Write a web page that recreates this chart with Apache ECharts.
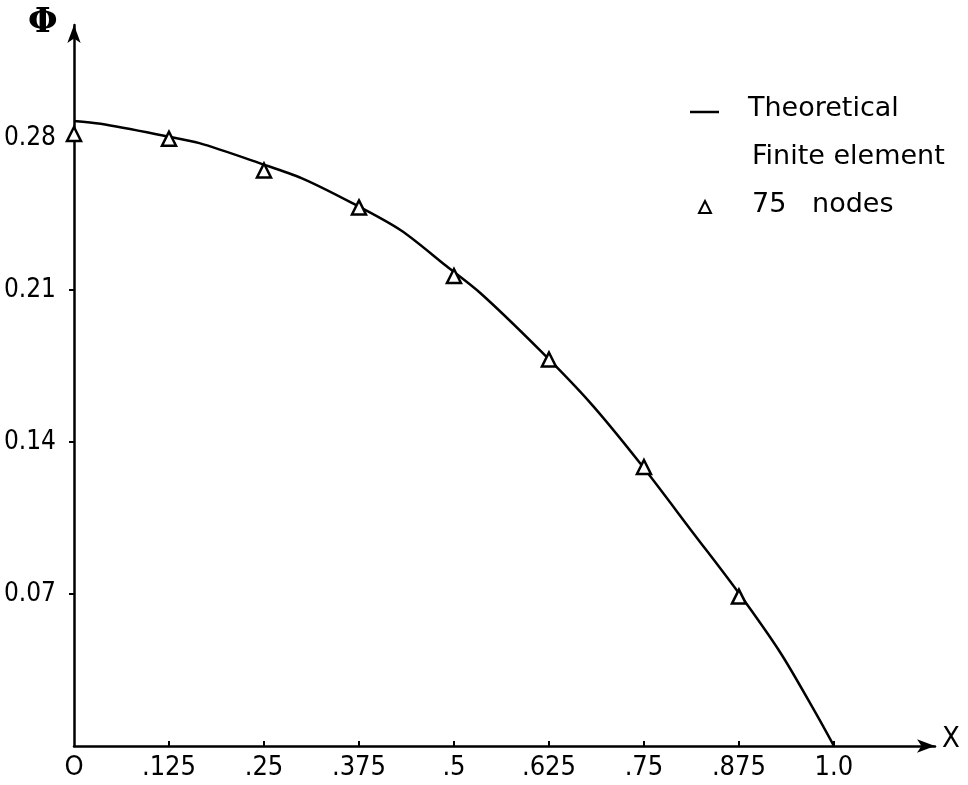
<!DOCTYPE html>
<html>
<head>
<meta charset="utf-8">
<script src="https://cdn.jsdelivr.net/npm/echarts@6/dist/echarts.min.js"></script>
<style>
  html, body { margin: 0; padding: 0; background: #fff; }
  #chart { width: 968px; height: 785px; }
</style>
</head>
<body>
<div id="chart"></div>
<script>
// theoretical curve, points
var theoryX = [0, 0.035, 0.12, 0.165, 0.245, 0.3, 0.365, 0.43, 0.49, 0.535, 0.615, 0.68, 0.745, 0.815, 0.875, 0.93, 0.975, 1.0];
var theoryY = [0.2878, 0.2865, 0.2809, 0.2776, 0.2683, 0.2614, 0.2502, 0.2375, 0.2210, 0.2085, 0.1816, 0.1578, 0.1302, 0.0980, 0.0703, 0.0427, 0.0158, 0];

// finite element, 75 nodes (triangles)
var nodesX = [0, 0.125, 0.25, 0.375, 0.5, 0.625, 0.75, 0.875];
var nodesY = [0.2818, 0.2796, 0.265, 0.248, 0.2164, 0.178, 0.1285, 0.0688];

// tick labels
var xTicks = [0, 0.125, 0.25, 0.375, 0.5, 0.625, 0.75, 0.875, 1.0];
var xTickLabels = ['O', '.125', '.25', '.375', '.5', '.625', '.75', '.875', '1.0'];
var yTicks = [0.07, 0.14, 0.21, 0.28];
var yTickLabels = ['0.07', '0.14', '0.21', '0.28'];

var font = '"DejaVu Sans Condensed", sans-serif';

function pairs(xs, ys) {
  return xs.map(function (x, i) { return [x, ys[i]]; });
}

var chart = echarts.init(document.getElementById('chart'));

var option = {
  backgroundColor: '#fff',
  animation: false,
  grid: { left: 74, right: 33, top: 25, bottom: 39 },
  xAxis: {
    type: 'value',
    min: 0,
    max: 1.133,
    splitLine: { show: false },
    axisLine: {
      onZero: false,
      symbol: ['none', 'arrow'],
      symbolSize: [10, 18],
      lineStyle: { color: '#000', width: 2.5 }
    },
    axisTick: { customValues: xTicks.slice(1), inside: true, length: 5, lineStyle: { color: '#000', width: 2 } },
    axisLabel: {
      customValues: xTicks,
      color: '#000',
      fontSize: 27,
      fontFamily: font,
      margin: 8,
      formatter: function (v) {
        var i = xTicks.indexOf(v);
        return i >= 0 ? xTickLabels[i] : '';
      }
    }
  },
  yAxis: {
    type: 'value',
    min: 0,
    max: 0.332,
    splitLine: { show: false },
    axisLine: {
      onZero: false,
      symbol: ['none', 'arrow'],
      symbolSize: [10, 18],
      lineStyle: { color: '#000', width: 2.5 }
    },
    axisTick: { customValues: yTicks, length: 5, lineStyle: { color: '#000', width: 2 } },
    axisLabel: {
      customValues: yTicks,
      color: '#000',
      fontSize: 26,
      fontFamily: font,
      margin: 18,
      formatter: function (v) {
        var i = yTicks.indexOf(v);
        return i >= 0 ? yTickLabels[i] : '';
      }
    }
  },
  series: [
    {
      name: 'Theoretical',
      type: 'line',
      smooth: 0.3,
      showSymbol: false,
      data: pairs(theoryX, theoryY),
      lineStyle: { color: '#000', width: 2.5 },
      z: 2
    },
    {
      name: '75 nodes',
      type: 'scatter',
      symbol: 'triangle',
      symbolSize: [14, 14],
      data: pairs(nodesX, nodesY),
      itemStyle: { color: '#fff', borderColor: '#000', borderWidth: 2.5, opacity: 1 },
      z: 3
    }
  ],
  graphic: [
    // axis names
    { type: 'text', left: 28, top: 6, style: { text: 'Φ', font: 'bold 34px "DejaVu Serif", serif', fill: '#000' } },
    { type: 'text', left: 942, top: 725, style: { text: 'X', font: '29px ' + font, fill: '#000' } },
    // legend
    { type: 'line', shape: { x1: 690, y1: 112, x2: 719, y2: 112 }, style: { stroke: '#000', lineWidth: 2.5 } },
    { type: 'text', left: 748, top: 95, style: { text: 'Theoretical', font: '27px "DejaVu Sans", sans-serif', fill: '#000' } },
    { type: 'text', left: 752, top: 143, style: { text: 'Finite element', font: '27px "DejaVu Sans", sans-serif', fill: '#000' } },
    { type: 'polygon', shape: { points: [[705, 201], [699, 213], [711, 213]] }, style: { fill: 'none', stroke: '#000', lineWidth: 2 } },
    { type: 'text', left: 752, top: 191, style: { text: '75   nodes', font: '27px "DejaVu Sans", sans-serif', fill: '#000' } }
  ]
};

chart.setOption(option);
</script>
</body>
</html>
